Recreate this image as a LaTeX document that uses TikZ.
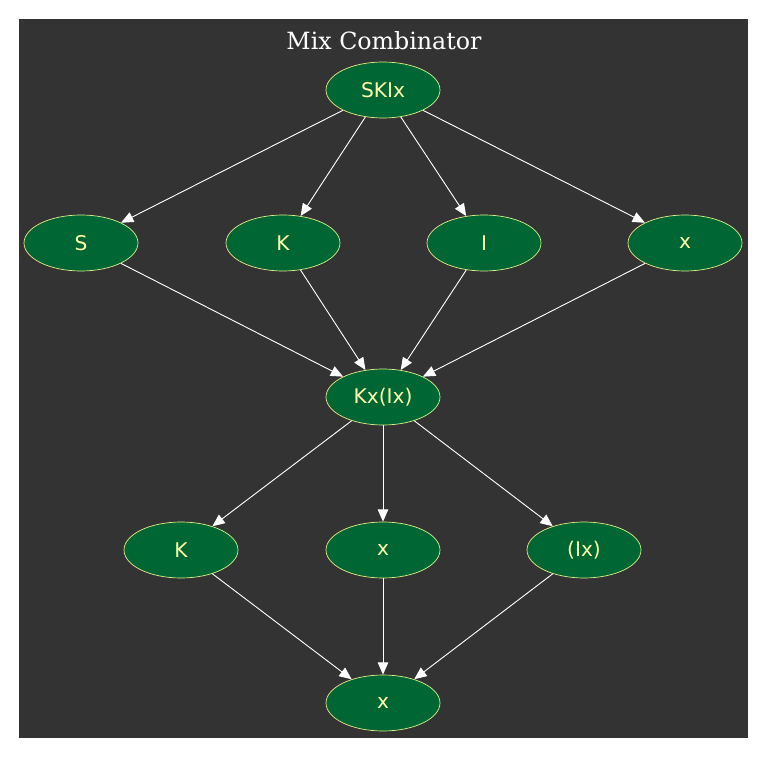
\documentclass[tikz,border=0pt]{standalone}
\usepackage{fontspec}
\setmainfont{DejaVu Serif}
\newfontfamily\nodefont{DejaVu Sans}
\usetikzlibrary{arrows.meta}
\usetikzlibrary{shapes.geometric}

\definecolor{bggray}{HTML}{333333}
\definecolor{termgreen}{HTML}{006633}
\definecolor{termline}{HTML}{DDEE88}
\definecolor{termtext}{HTML}{FFFFAA}

\begin{document}
\begin{tikzpicture}[x=0.02cm,y=-0.02cm]

      \useasboundingbox (0,0) rectangle (768,757);
      \fill[bggray] (19,19) rectangle (748,738);
      \node[text=white,font=\fontsize{13.5}{16}\selectfont] (title) at (384,41) {Mix Combinator};

      \begin{scope}[every node/.style={ellipse,draw=termline,fill=termgreen,text=termtext,
          minimum width=2.28cm,minimum height=1.12cm,inner sep=0pt,
          font=\nodefont\fontsize{11.5}{13}\selectfont}]
        \node (skix) at (383,90) {SKIx};
        \node (s) at (81,243) {S};
        \node (k1) at (283,243) {K};
        \node (i) at (484,243) {I};
        \node (x1) at (685,243) {x};
        \node (kxix) at (383,397) {Kx(Ix)};
        \node (k2) at (181,550) {K};
        \node (x2) at (383,550) {x};
        \node (ix) at (584,550) {(Ix)};
        \node (x3) at (383,703) {x};
      \end{scope}

      \begin{scope}[>={Triangle[length=7pt,width=6pt]},
          every edge/.style={draw=white,fill=white,line width=0.5pt}]
        \path [->] (skix) edge (s);
        \path [->] (skix) edge (k1);
        \path [->] (skix) edge (i);
        \path [->] (skix) edge (x1);
        \path [->] (s) edge (kxix);
        \path [->] (k1) edge (kxix);
        \path [->] (i) edge (kxix);
        \path [->] (x1) edge (kxix);
        \path [->] (kxix) edge (k2);
        \path [->] (kxix) edge (x2);
        \path [->] (kxix) edge (ix);
        \path [->] (k2) edge (x3);
        \path [->] (x2) edge (x3);
        \path [->] (ix) edge (x3);
      \end{scope}
    \end{tikzpicture}
\end{document}
